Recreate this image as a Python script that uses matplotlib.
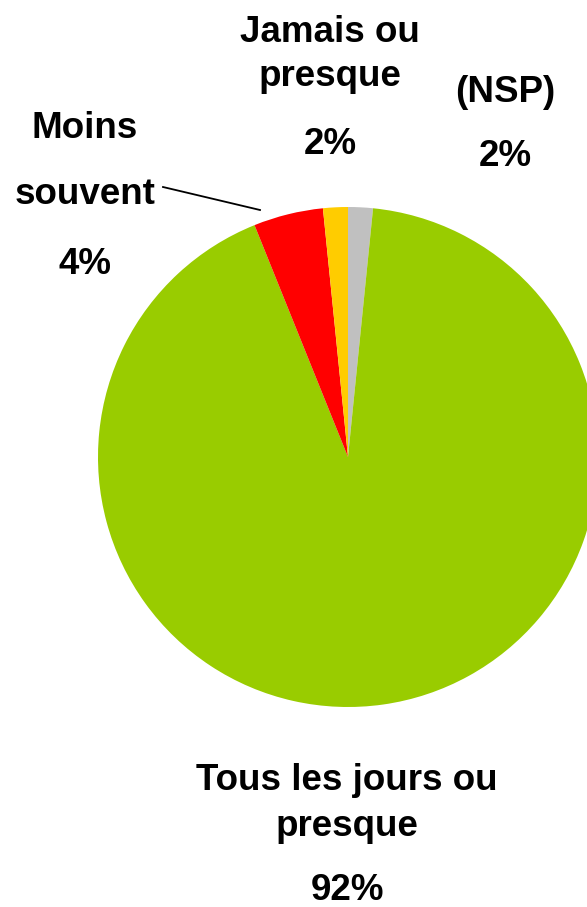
import matplotlib
matplotlib.use("Agg")
import matplotlib.pyplot as plt

# slices, clockwise from the top
labels = ["(NSP)", "Tous les jours ou\npresque", "Moins\nsouvent", "Jamais ou\npresque"]
values = [1.6, 92.3, 4.5, 1.6]
shown = ["2%", "92%", "4%", "2%"]
colors = ["#C0C0C0", "#99CC00", "#FF0000", "#FFCC00"]

W, H = 587, 907
fig = plt.figure(figsize=(W / 100, H / 100), dpi=100)
ax = fig.add_axes([0, 0, 1, 1])
ax.set_xlim(0, W)
ax.set_ylim(0, H)
ax.set_aspect("equal")
ax.axis("off")

cx, cy, r = 348, H - 457, 250
ax.pie(values, colors=colors, startangle=90, counterclock=False,
       center=(cx, cy), radius=r, wedgeprops=dict(linewidth=0),
       frame=True)
ax.set_xlim(0, W)
ax.set_ylim(0, H)
ax.axis("off")

font = dict(family=["Liberation Sans", "DejaVu Sans"], fontsize=26.5,
            fontweight="bold", color="black", ha="center", va="center")

# label line positions (x, y from top) for each slice
name_pos = [
    [(505, 93)],
    [(347, 780), (347, 826)],
    [(85, 128), (85, 195)],
    [(330, 32), (330, 77)],
]
pct_pos = [(505, 157), (347, 890), (85, 265), (330, 145)]

for lab, pct, lines, pp in zip(labels, shown, name_pos, pct_pos):
    for txt, (x, y) in zip(lab.split("\n"), lines):
        ax.text(x, H - y, txt, **font)
    ax.text(pp[0], H - pp[1], pct, **font)

# leader line for "Moins souvent"
ax.plot([163, 260], [H - 187, H - 210], color="black", linewidth=1.3)

fig.savefig("out.png", dpi=100)
